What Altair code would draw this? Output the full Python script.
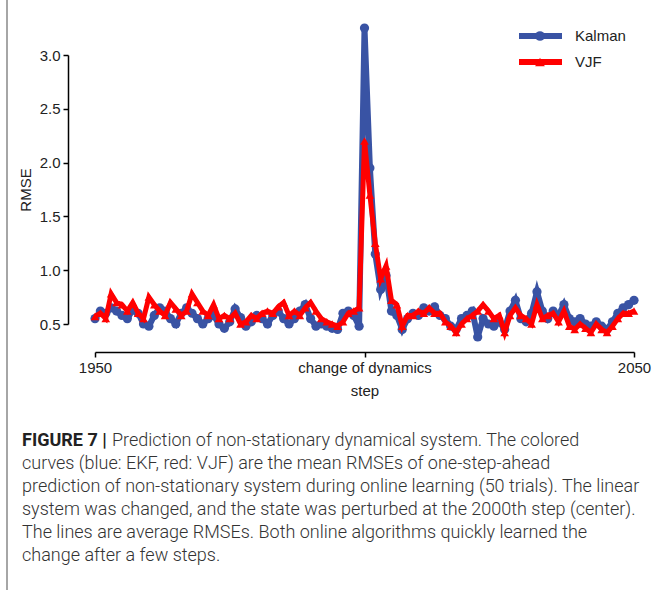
import altair as alt
import pandas as pd

steps = list(range(1950, 2051))
kalman = [0.55, 0.62, 0.60, 0.65, 0.62, 0.58, 0.55, 0.63, 0.60, 0.50,
          0.48, 0.58, 0.65, 0.62, 0.55, 0.50, 0.60, 0.65, 0.60, 0.55,
          0.50, 0.55, 0.58, 0.50, 0.46, 0.52, 0.64, 0.56, 0.48, 0.52,
          0.58, 0.55, 0.50, 0.58, 0.62, 0.55, 0.50, 0.55, 0.62, 0.68,
          0.55, 0.48, 0.50, 0.48, 0.46, 0.45, 0.60, 0.62, 0.58, 0.48,
          3.25, 1.95, 1.15, 0.82, 0.95, 0.62, 0.58, 0.45, 0.55, 0.60,
          0.58, 0.65, 0.62, 0.66, 0.58, 0.55, 0.48, 0.45, 0.55, 0.58,
          0.62, 0.38, 0.55, 0.50, 0.48, 0.52, 0.45, 0.62, 0.72, 0.55,
          0.52, 0.60, 0.80, 0.62, 0.55, 0.62, 0.58, 0.68, 0.55, 0.52,
          0.55, 0.50, 0.48, 0.52, 0.48, 0.45, 0.52, 0.60, 0.65, 0.68,
          0.72]
vjf = [0.57, 0.60, 0.55, 0.78, 0.70, 0.68, 0.62, 0.70, 0.60, 0.55,
       0.75, 0.68, 0.62, 0.58, 0.70, 0.64, 0.58, 0.62, 0.78, 0.70,
       0.62, 0.58, 0.68, 0.55, 0.58, 0.55, 0.60, 0.50, 0.52, 0.58,
       0.55, 0.60, 0.62, 0.60, 0.66, 0.70, 0.58, 0.62, 0.58, 0.65,
       0.70, 0.62, 0.55, 0.52, 0.50, 0.48, 0.52, 0.60, 0.62, 0.65,
       2.20, 1.70, 1.25, 0.92, 1.04, 0.72, 0.68, 0.48, 0.58, 0.58,
       0.62, 0.60, 0.65, 0.60, 0.60, 0.52, 0.48, 0.42, 0.50, 0.55,
       0.58, 0.62, 0.68, 0.62, 0.55, 0.58, 0.42, 0.58, 0.65, 0.58,
       0.55, 0.50, 0.68, 0.55, 0.58, 0.60, 0.52, 0.62, 0.48, 0.45,
       0.50, 0.46, 0.42, 0.50, 0.45, 0.42, 0.48, 0.55, 0.60, 0.60,
       0.62]

series_names = ["Kalman", "VJF"]
series_colors = ["#3953a4", "#ff0000"]
series_shapes = ["circle", "triangle-up"]
y_ticks = [0.5, 1.0, 1.5, 2.0, 2.5, 3.0]
x_ticks = [1950, 2000, 2050]
x_tick_labels = ["1950", "change of dynamics", "2050"]

caption_bold = "FIGURE 7 |"
caption_lines = [
    "Prediction of non-stationary dynamical system. The colored",
    "curves (blue: EKF, red: VJF) are the mean RMSEs of one-step-ahead",
    "prediction of non-stationary system during online learning (50 trials). The linear",
    "system was changed, and the state was perturbed at the 2000th step (center).",
    "The lines are average RMSEs. Both online algorithms quickly learned the",
    "change after a few steps.",
]

df = pd.DataFrame({"step": steps, "Kalman": kalman, "VJF": vjf})

parts = [f"datum.value == {v} ? '{l}'" for v, l in zip(x_ticks[:-1], x_tick_labels[:-1])]
label_expr = " : ".join(parts) + f" : '{x_tick_labels[-1]}'"

AX_FONT = "Liberation Sans"
x_enc = alt.X("step:Q",
              scale=alt.Scale(domain=[x_ticks[0], x_ticks[-1]], nice=False, zero=False),
              axis=alt.Axis(values=x_ticks, labelExpr=label_expr, offset=28, title="step",
                            grid=False, labelFlush=False, labelOverlap=False,
                            labelPadding=3, titlePadding=8))


def y_enc(field):
    return alt.Y(f"{field}:Q",
                 scale=alt.Scale(domain=[y_ticks[0], y_ticks[-1]], nice=False, zero=False),
                 axis=alt.Axis(values=y_ticks, format=".1f", offset=27, title="RMSE",
                               grid=False, labelPadding=3, titlePadding=6))


base = alt.Chart(df)
layers = []
widths = [6, 5]
sizes = [85, 75]
for name, col, shp, w, s in zip(series_names, series_colors, series_shapes, widths, sizes):
    layers.append(base.mark_line(color=col, strokeWidth=w).encode(x=x_enc, y=y_enc(name)))
    layers.append(base.mark_point(color=col, filled=True, shape=shp, size=s, opacity=1)
                  .encode(x=x_enc, y=y_enc(name)))

one = alt.Data(values=[{}])
# legend
leg_y = [-19, 7]
for name, col, shp, ly in zip(series_names, series_colors, series_shapes, leg_y):
    layers.append(alt.Chart(one).mark_rule(color=col, strokeWidth=6)
                  .encode(x=alt.value(424), x2=alt.value(467), y=alt.value(ly)))
    layers.append(alt.Chart(one).mark_point(color=col, filled=True, shape=shp, size=95, opacity=1)
                  .encode(x=alt.value(445), y=alt.value(ly)))
    layers.append(alt.Chart(one).mark_text(text=name, align="left", baseline="middle",
                                           font=AX_FONT, fontSize=15, color="#222")
                  .encode(x=alt.value(480), y=alt.value(ly)))

# left gray bar
layers.append(alt.Chart(one).mark_rule(color="#888888", strokeWidth=1.5)
              .encode(x=alt.value(-88), y=alt.value(-55), y2=alt.value(535)))

# caption
CAP_FONT = "Roboto"
cap_x = -73
cap_y0 = 386
cap_dy = 23
layers.append(alt.Chart(one).mark_text(text=caption_bold, align="left", baseline="middle",
                                       font=CAP_FONT, fontSize=18, fontWeight="bold", color="#222")
              .encode(x=alt.value(cap_x), y=alt.value(cap_y0)))
for i, line in enumerate(caption_lines):
    xx = cap_x + 90 if i == 0 else cap_x
    layers.append(alt.Chart(one).mark_text(text=line, align="left", baseline="middle",
                                           font=CAP_FONT, fontSize=18, fontWeight=300, color="#333")
                  .encode(x=alt.value(xx), y=alt.value(cap_y0 + i * cap_dy)))

chart = alt.layer(*layers).properties(
    width=539, height=269,
    autosize=alt.AutoSizeParams(type="none"),
    padding={"left": 95, "top": 55, "right": 18, "bottom": 266},
    background="white",
).configure_view(stroke=None).configure_axis(
    domainColor="black", domainWidth=1.5, tickColor="black", tickWidth=1.5, tickSize=5,
    labelFont=AX_FONT, labelFontSize=15, labelColor="#222",
    titleFont=AX_FONT, titleFontSize=15, titleFontWeight="normal", titleColor="#222",
)

chart.save("out.html", embed_options={"renderer": "svg", "actions": False})
